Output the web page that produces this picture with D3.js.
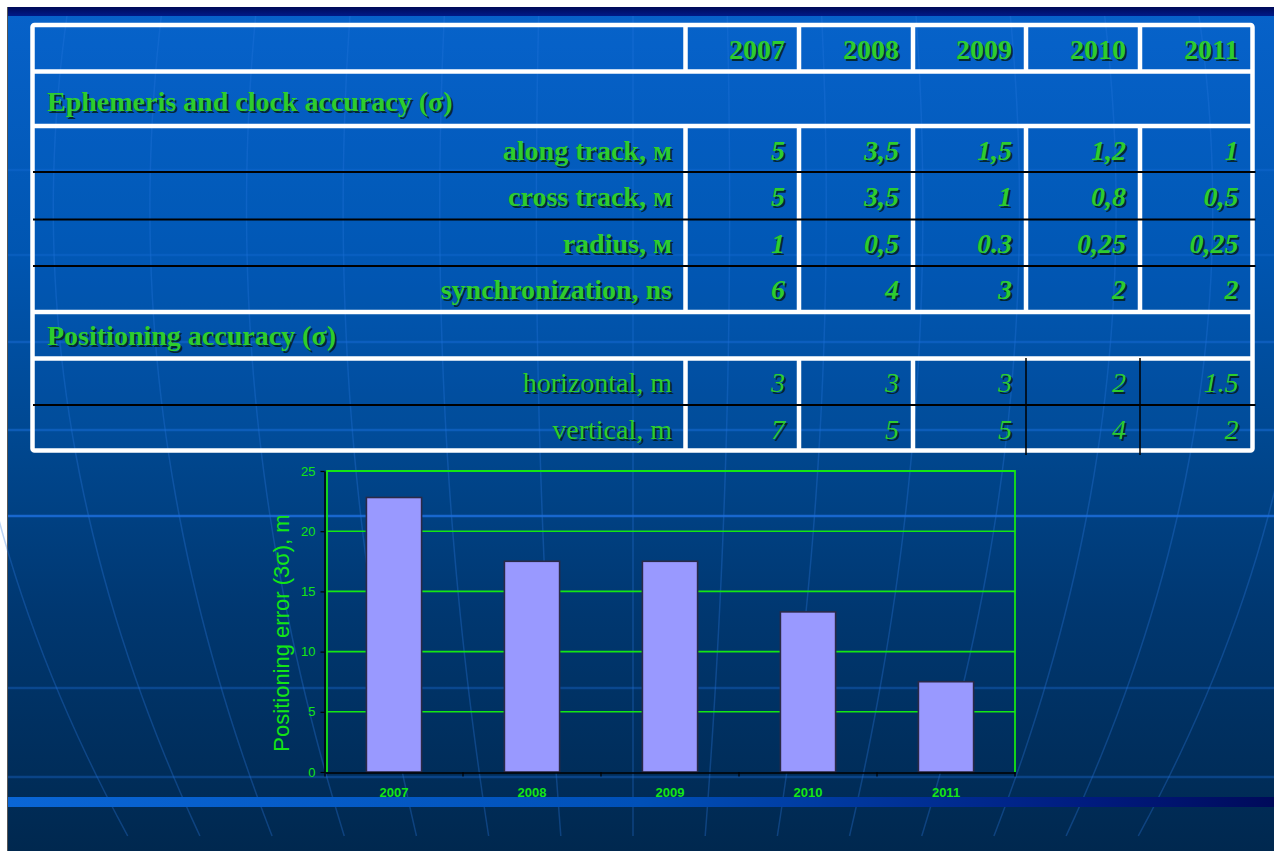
<!DOCTYPE html>
<html><head><meta charset="utf-8">
<script src="https://cdn.jsdelivr.net/npm/d3@7"></script>
<style>html,body{margin:0;padding:0;background:#fff;overflow:hidden}</style>
</head><body>
<svg id="c" width="1274" height="851"></svg>
<script>
// ---------- data ----------
const years = ["2007", "2008", "2009", "2010", "2011"];
const ephemerisTitle = "Ephemeris and clock accuracy (σ)";
const positioningTitle = "Positioning accuracy (σ)";
const ephemerisLabels = ["along track, м", "cross track, м", "radius, м", "synchronization, ns"];
const alongTrack = ["5", "3,5", "1,5", "1,2", "1"];
const crossTrack = ["5", "3,5", "1", "0,8", "0,5"];
const radiusAcc = ["1", "0,5", "0.3", "0,25", "0,25"];
const synchronization = ["6", "4", "3", "2", "2"];
const positioningLabels = ["horizontal, m", "vertical, m"];
const horizontalAcc = ["3", "3", "3", "2", "1.5"];
const verticalAcc = ["7", "5", "5", "4", "2"];
const positioningError3s = [22.8, 17.5, 17.5, 13.3, 7.5];
const yTicks = [0, 5, 10, 15, 20, 25];
const yLabel = "Positioning error (3σ), m";

// ---------- setup ----------
const svg = d3.select("#c");
const W = 1274, H = 851;
const defs = svg.append("defs");

const bg = defs.append("linearGradient").attr("id", "bg").attr("x1", 0).attr("y1", 0).attr("x2", 0).attr("y2", 1);
[[0, "#0762ca"], [0.3, "#0055b0"], [0.52, "#00478f"], [0.72, "#003770"], [1, "#00284f"]]
  .forEach(([o, c]) => bg.append("stop").attr("offset", o).attr("stop-color", c));
const strip = defs.append("linearGradient").attr("id", "strip").attr("x1", 0).attr("y1", 0).attr("x2", 0).attr("y2", 1);
strip.append("stop").attr("offset", 0).attr("stop-color", "#000a58");
strip.append("stop").attr("offset", 1).attr("stop-color", "#001a88");
const band = defs.append("linearGradient").attr("id", "band").attr("x1", 0).attr("y1", 0).attr("x2", 1).attr("y2", 0);
[[0, "#0a66d6"], [0.5, "#0050b8"], [0.85, "#001c80"], [1, "#000a5a"]]
  .forEach(([o, c]) => band.append("stop").attr("offset", o).attr("stop-color", c));

// background
svg.append("rect").attr("x", 8).attr("y", 7).attr("width", W - 8).attr("height", H - 7).attr("fill", "url(#bg)");
svg.append("line").attr("x1", 7.5).attr("x2", 7.5).attr("y1", 7).attr("y2", H).attr("stroke", "#555").attr("stroke-width", 1);
svg.append("rect").attr("x", 8).attr("y", 7).attr("width", W - 8).attr("height", 9).attr("fill", "url(#strip)");

// decorative meridians
const deco = svg.append("g");
const merLine = d3.line().curve(d3.curveBasis);
d3.range(-7, 8).forEach(i => {
  const x450 = 633 + 93 * i;
  const pts = d3.range(16, H + 1, 20).map(y => {
    const dy = y - 450;
    return [x450 - i * (0.03 * dy + 6.2e-5 * dy * dy), y];
  });
  deco.append("path").attr("d", merLine(pts)).attr("fill", "none")
    .attr("stroke", "#2a7ae0").attr("stroke-opacity", 0.32).attr("stroke-width", 1.5);
});
[[170, 0.3], [255, 0.3], [342, 0.45], [430, 0.5], [516, 0.85], [688, 0.35], [777, 0.35]].forEach(([y, o]) => {
  deco.append("line").attr("x1", 8).attr("x2", W).attr("y1", y).attr("y2", y)
    .attr("stroke", "#1c6fdc").attr("stroke-opacity", o).attr("stroke-width", 2.5);
});
svg.append("rect").attr("x", 8).attr("y", 797).attr("width", W - 8).attr("height", 10).attr("fill", "url(#band)");

// ---------- table ----------
const tbl = svg.append("g");
const colSep = [685.5, 799, 913, 1026, 1140];
const colRight = [797, 911, 1024, 1138, 1250.5];
const tL = 32.5, tR = 1252.5, tT = 25, tB = 450.5;
tbl.append("rect").attr("x", tL).attr("y", tT).attr("width", tR - tL).attr("height", tB - tT)
  .attr("fill", "#0a6ad8").attr("fill-opacity", 0.12);
[71.5, 126, 312, 358.5].forEach(y => tbl.append("line").attr("x1", tL).attr("x2", tR).attr("y1", y).attr("y2", y)
  .attr("stroke", "#fff").attr("stroke-width", 4.5));
const vBands = [[tT, 71.5, colSep], [126, 312, colSep], [358.5, tB, colSep.slice(0, 3)]];
vBands.forEach(([y1, y2, xs]) => xs.forEach(x => tbl.append("line").attr("x1", x).attr("x2", x)
  .attr("y1", y1).attr("y2", y2).attr("stroke", "#fff").attr("stroke-width", 4.5)));
tbl.append("rect").attr("x", tL).attr("y", tT).attr("width", tR - tL).attr("height", tB - tT)
  .attr("fill", "none").attr("stroke", "#fff").attr("stroke-width", 4.5).attr("rx", 2);
[172, 219.5, 266, 405].forEach(y => tbl.append("line").attr("x1", 33).attr("x2", 1255.5).attr("y1", y).attr("y2", y)
  .attr("stroke", "#000").attr("stroke-width", 1.8));
colSep.slice(3).forEach(x => tbl.append("line").attr("x1", x).attr("x2", x).attr("y1", 358).attr("y2", 455)
  .attr("stroke", "#000").attr("stroke-width", 1.5));

function shadowText(g, x, y, txt, anchor, weight, style) {
  const mk = (dx, fill, op) => g.append("text").attr("x", x + dx).attr("y", y + dx)
    .attr("text-anchor", anchor).attr("font-family", "'Liberation Serif','Times New Roman',serif")
    .attr("font-size", 28).attr("font-weight", weight).attr("font-style", style)
    .attr("fill", fill).attr("fill-opacity", op).text(txt);
  mk(2, "#061806", 0.75);
  mk(0, "#2ecc2e", 1);
}
const txt = svg.append("g");
years.forEach((yr, i) => shadowText(txt, colRight[i] - 12, 59, yr, "end", "bold", "normal"));
shadowText(txt, 47, 111, ephemerisTitle, "start", "bold", "normal");
shadowText(txt, 47, 345, positioningTitle, "start", "bold", "normal");
const ephRows = [alongTrack, crossTrack, radiusAcc, synchronization];
const ephBase = [160, 206, 253, 299];
ephRows.forEach((vals, r) => {
  shadowText(txt, 672, ephBase[r], ephemerisLabels[r], "end", "bold", "normal");
  vals.forEach((v, i) => shadowText(txt, colRight[i] - 12, ephBase[r], v, "end", "bold", "italic"));
});
const posRows = [horizontalAcc, verticalAcc];
const posBase = [392, 439];
posRows.forEach((vals, r) => {
  shadowText(txt, 672, posBase[r], positioningLabels[r], "end", "normal", "normal");
  vals.forEach((v, i) => shadowText(txt, colRight[i] - 12, posBase[r], v, "end", "normal", "italic"));
});

// ---------- bar chart ----------
const x = d3.scaleBand().domain(years).range([325, 1015]).paddingInner(0.6).paddingOuter(0.3);
const y = d3.scaleLinear().domain([0, 25]).range([772, 471]);
const ch = svg.append("g");
const green = "#14e614";

ch.append("g").selectAll("line").data(yTicks.filter(d => d > 0 && d < 25)).join("line")
  .attr("x1", 327).attr("x2", 1015).attr("y1", d => y(d)).attr("y2", d => y(d))
  .attr("stroke", green).attr("stroke-width", 1.6);
ch.append("path").attr("d", `M327,${y(0)}V${y(25)}H1015V${y(0)}`).attr("fill", "none")
  .attr("stroke", green).attr("stroke-width", 1.8);

ch.append("g").selectAll("rect").data(years).join("rect")
  .attr("x", d => x(d)).attr("width", x.bandwidth())
  .attr("y", (d, i) => y(positioningError3s[i]))
  .attr("height", (d, i) => y(0) - y(positioningError3s[i]))
  .attr("fill", "#9999ff").attr("stroke", "#2a2a48").attr("stroke-width", 1.6);

const yAx = ch.append("g").attr("transform", "translate(324.5,0)")
  .call(d3.axisLeft(y).tickValues(yTicks).tickSize(4).tickSizeOuter(0).tickPadding(5));
yAx.select(".domain").attr("stroke", "#000").attr("stroke-width", 1.5);
yAx.selectAll(".tick line").attr("stroke", "#000").attr("stroke-width", 1.2);
yAx.selectAll("text").attr("fill", green).attr("font-family", "'Liberation Sans',Arial,sans-serif").attr("font-size", 13);

const xAx = ch.append("g").attr("transform", `translate(0,${y(0) + 0.5})`)
  .call(d3.axisBottom(x).tickSize(0).tickSizeOuter(0).tickPadding(15));
xAx.select(".domain").attr("stroke", "#000").attr("stroke-width", 1.5);
xAx.selectAll("text").attr("fill", green).attr("font-family", "'Liberation Sans',Arial,sans-serif")
  .attr("font-size", 13).attr("font-weight", "bold");
const bounds = d3.range(years.length + 1).map(k => x.range()[0] + k * x.step());
ch.append("g").selectAll("line").data(bounds).join("line")
  .attr("x1", d => d).attr("x2", d => d).attr("y1", y(0)).attr("y2", y(0) + 4.5)
  .attr("stroke", "#000").attr("stroke-width", 1.2);

ch.append("text").attr("transform", `translate(289,633) rotate(-90)`)
  .attr("text-anchor", "middle").attr("fill", green)
  .attr("font-family", "'Liberation Sans',Arial,sans-serif").attr("font-size", 22).text(yLabel);
</script>
</body></html>
